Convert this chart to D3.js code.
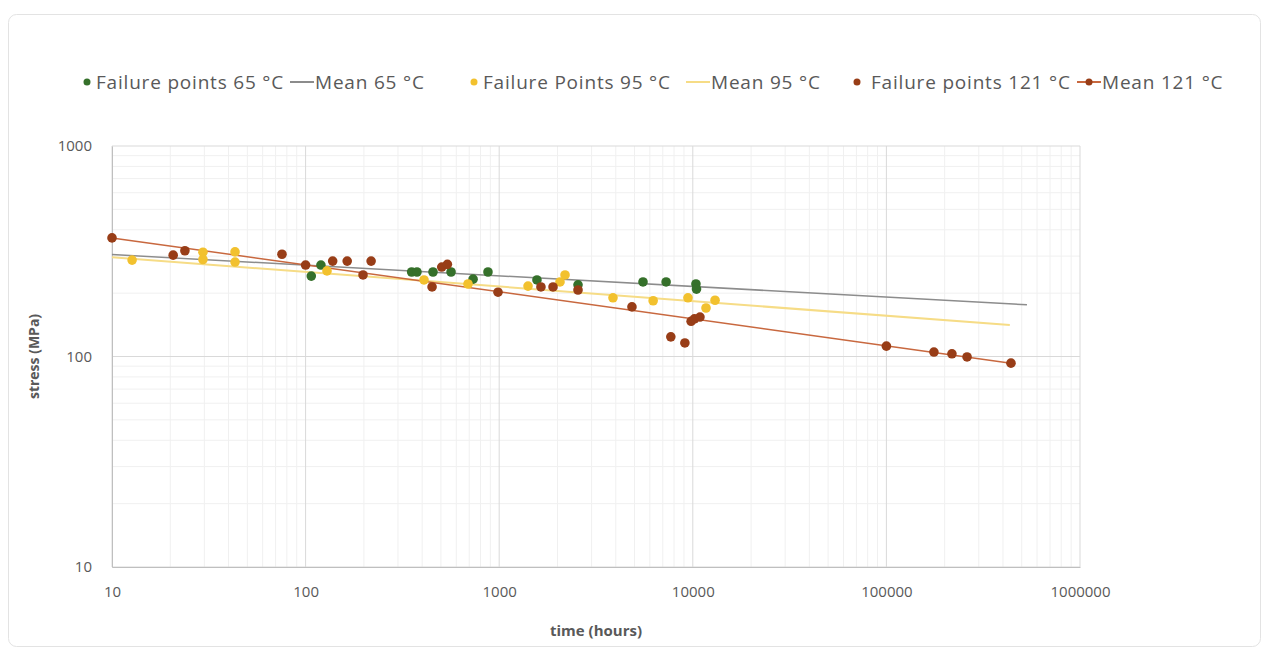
<!DOCTYPE html>
<html>
<head>
<meta charset="utf-8">
<script src="https://cdn.jsdelivr.net/npm/d3@7"></script>
<style>
  body { margin: 0; background: #fff; font-family: "Open Sans", "Noto Sans", sans-serif; }
  svg text { fill: #595959; }
</style>
</head>
<body>
<svg id="chart" width="1263" height="651"></svg>
<script>
// failure points, [time h, stress MPa]
const points65 = [
  [107, 241], [120, 272], [353, 252], [376, 252], [455, 252], [564, 252],
  [733, 233], [875, 252], [1567, 231], [2553, 219], [5530, 226], [7280, 226],
  [10380, 221], [10450, 209]
];
const points95 = [
  [12.7, 287], [29.5, 313], [29.5, 289], [43.2, 314], [43.2, 281], [129, 255],
  [409, 231], [690, 221], [1409, 216], [2061, 226], [2188, 244], [3870, 190],
  [6240, 184], [9440, 190], [11700, 170], [13030, 185]
];
const points121 = [
  [20.7, 303], [23.8, 318], [75.5, 306], [100, 272], [138, 284], [164, 284],
  [198, 244], [218, 284], [450, 214], [505, 266], [540, 274], [986, 202],
  [1643, 214], [1897, 214], [2553, 207], [4850, 172], [7700, 124], [9100, 116],
  [9800, 147], [10200, 151], [10890, 154], [100000, 112], [176000, 105],
  [218000, 103], [261000, 99.5]
];
// mean lines, [time h, stress MPa]
const mean65 = [[10, 305], [532000, 176]];
const mean95 = [[10, 296], [434000, 141]];
const mean121 = [[10, 366], [440000, 93]];

const xTicks = [10, 100, 1000, 10000, 100000, 1000000];
const yTicks = [10, 100, 1000];

const legendItems = [
  { label: "Failure points 65 °C", kind: "dot", color: "#35702a" },
  { label: "Mean 65 °C", kind: "line", color: "#8c8c8c" },
  { label: "Failure Points 95 °C", kind: "dot", color: "#f2c12e" },
  { label: "Mean 95 °C", kind: "line", color: "#f6dc86" },
  { label: "Failure points 121 °C", kind: "dot", color: "#983d17" },
  { label: "Mean 121 °C", kind: "linedot", color: "#c8683f" }
];

const svg = d3.select("#chart");

// outer frame
svg.append("rect")
  .attr("x", 8.5).attr("y", 14.5)
  .attr("width", 1252).attr("height", 632)
  .attr("rx", 8)
  .attr("fill", "#fff")
  .attr("stroke", "#e3e3e3");

const margin = { left: 112, right: 183, top: 146, bottom: 84 };
const width = 1263 - margin.left - margin.right;
const height = 651 - margin.top - margin.bottom;

const x = d3.scaleLog().domain([10, 1000000]).range([0, width]);
const y = d3.scaleLog().domain([10, 1000]).range([height, 0]);

const g = svg.append("g").attr("transform", "translate(" + margin.left + "," + margin.top + ")");

// minor grid
const xMinor = [];
for (let d = 10; d < 1000000; d *= 10) for (let k = 2; k < 10; k++) xMinor.push(d * k);
const yMinor = [];
for (let d = 10; d < 1000; d *= 10) for (let k = 2; k < 10; k++) yMinor.push(d * k);

g.selectAll(".xminor").data(xMinor).join("line")
  .attr("x1", d => x(d)).attr("x2", d => x(d))
  .attr("y1", 0).attr("y2", height)
  .attr("stroke", "#f0f0f0").attr("stroke-width", 1);
g.selectAll(".yminor").data(yMinor).join("line")
  .attr("x1", 0).attr("x2", width)
  .attr("y1", d => y(d)).attr("y2", d => y(d))
  .attr("stroke", "#f0f0f0").attr("stroke-width", 1);

// major grid
g.selectAll(".xmajor").data(xTicks).join("line")
  .attr("x1", d => x(d)).attr("x2", d => x(d))
  .attr("y1", 0).attr("y2", height)
  .attr("stroke", "#d9d9d9").attr("stroke-width", 1);
g.selectAll(".ymajor").data(yTicks).join("line")
  .attr("x1", 0).attr("x2", width)
  .attr("y1", d => y(d)).attr("y2", d => y(d))
  .attr("stroke", "#d9d9d9").attr("stroke-width", 1);

// axes
const xAxis = g.append("g")
  .attr("transform", "translate(0," + height + ")")
  .call(d3.axisBottom(x).tickValues(xTicks).tickFormat(d3.format("d")).tickSize(0).tickPadding(19));
const yAxis = g.append("g")
  .call(d3.axisLeft(y).tickValues(yTicks).tickFormat(d3.format("d")).tickSize(0).tickPadding(20));
[xAxis, yAxis].forEach(a => {
  a.select(".domain").attr("stroke", "#bfbfbf");
  a.selectAll("text").attr("font-size", "15px").attr("fill", "#595959")
    .attr("font-family", "Open Sans, sans-serif");
});

// axis titles
svg.append("text")
  .attr("x", margin.left + width / 2).attr("y", 636)
  .attr("text-anchor", "middle")
  .attr("font-size", "15px").attr("font-weight", "bold")
  .text("time (hours)");
svg.append("text")
  .attr("transform", "translate(39," + (margin.top + height / 2) + ") rotate(-90)")
  .attr("text-anchor", "middle")
  .attr("font-size", "14px").attr("font-weight", "bold")
  .text("stress (MPa)");

// mean lines
const line = d3.line().x(d => x(d[0])).y(d => y(d[1]));
g.append("path").datum(mean65).attr("d", line)
  .attr("fill", "none").attr("stroke", "#8c8c8c").attr("stroke-width", 1.5);
g.append("path").datum(mean95).attr("d", line)
  .attr("fill", "none").attr("stroke", "#f6dc86").attr("stroke-width", 2);
g.append("path").datum(mean121).attr("d", line)
  .attr("fill", "none").attr("stroke", "#c8683f").attr("stroke-width", 1.5);

// failure points
function drawDots(data, color) {
  g.append("g").selectAll("circle").data(data).join("circle")
    .attr("cx", d => x(d[0])).attr("cy", d => y(d[1]))
    .attr("r", 4.8).attr("fill", color);
}
drawDots(points65, "#35702a");
drawDots(points95, "#f2c12e");
drawDots(points121, "#983d17");
drawDots(mean121, "#983d17");

// legend
const legendX = [87, 290, 474, 686, 857, 1077];
const leg = svg.append("g").attr("transform", "translate(0,82)");
legendItems.forEach((it, i) => {
  const lx = legendX[i];
  const item = leg.append("g").attr("transform", "translate(" + lx + ",0)");
  let tx;
  if (it.kind === "dot") {
    item.append("circle").attr("cx", 0).attr("cy", 0).attr("r", 3.5).attr("fill", it.color);
    tx = i === 4 ? 14 : 9;
  } else {
    item.append("line").attr("x1", 0).attr("x2", 24).attr("y1", 0).attr("y2", 0)
      .attr("stroke", it.color).attr("stroke-width", 2);
    if (it.kind === "linedot") {
      item.append("circle").attr("cx", 12).attr("cy", 0).attr("r", 3.5).attr("fill", "#983d17");
    }
    tx = 25;
  }
  item.append("text").attr("x", tx).attr("y", 0).attr("dy", "0.35em")
    .attr("font-size", "19px").attr("letter-spacing", "0.8px").text(it.label);
});
</script>
</body>
</html>
